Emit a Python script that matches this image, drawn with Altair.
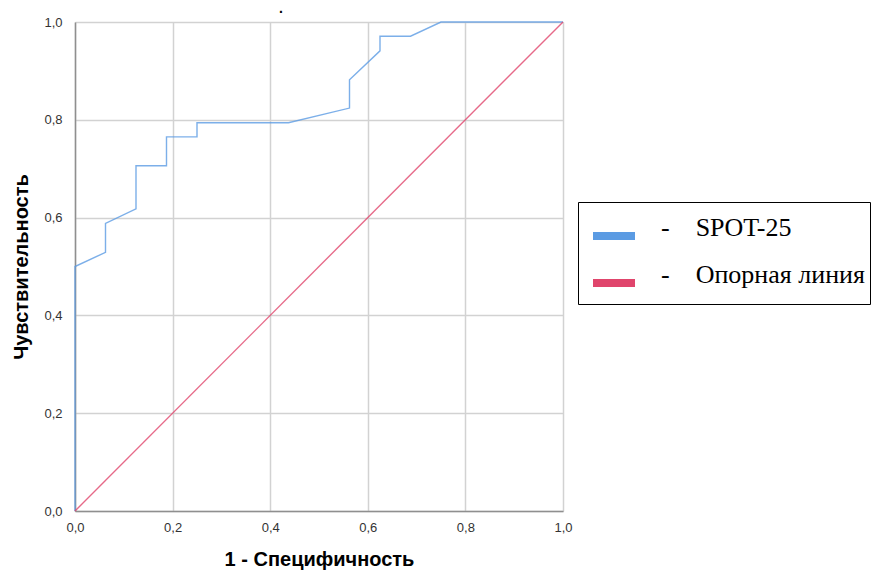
import altair as alt
import pandas as pd

# ROC curve points (1 - specificity, sensitivity)
roc_fpr = [0, 0, 0.0625, 0.0625, 0.125, 0.125, 0.1875, 0.1875, 0.25, 0.25,
           0.4375, 0.5625, 0.5625, 0.625, 0.625, 0.6875, 0.75, 1.0]
roc_tpr = [0, 0.5, 0.529, 0.588, 0.618, 0.706, 0.706, 0.765, 0.765, 0.794,
           0.794, 0.824, 0.882, 0.941, 0.971, 0.971, 1.0, 1.0]
ref_fpr = [0, 1]
ref_tpr = [0, 1]
series_names = ["SPOT-25", "Опорная линия"]
series_colors = ["#5b9be3", "#e0456c"]
tick_values = [0, 0.2, 0.4, 0.6, 0.8, 1.0]

rows = []
for i, (x, y) in enumerate(zip(roc_fpr, roc_tpr)):
    rows.append({"fpr": x, "tpr": y, "series": series_names[0], "idx": i})
for i, (x, y) in enumerate(zip(ref_fpr, ref_tpr)):
    rows.append({"fpr": x, "tpr": y, "series": series_names[1], "idx": i})
df = pd.DataFrame(rows)

label_expr = "replace(format(datum.value, '.1f'), '.', ',')"

chart = alt.Chart(df).mark_line(strokeWidth=1.4, opacity=0.8).encode(
    x=alt.X("fpr:Q", title="1 - Специфичность",
            scale=alt.Scale(domain=[0, 1], nice=False, zero=False),
            axis=alt.Axis(values=tick_values, labelExpr=label_expr,
                          labelFlush=False, labelPadding=10, titlePadding=15)),
    y=alt.Y("tpr:Q", title="Чувствительность",
            scale=alt.Scale(domain=[0, 1], nice=False, zero=False),
            axis=alt.Axis(values=tick_values, labelExpr=label_expr,
                          labelFlush=False, labelPadding=13, titlePadding=12)),
    color=alt.Color("series:N",
                    scale=alt.Scale(domain=series_names, range=series_colors),
                    legend=alt.Legend(orient="none", legendX=503, legendY=180,
                                      title=" ", titleFontSize=1,
                                      titlePadding=3, symbolOffset=6,
                                      labelExpr="'-\u2003' + datum.label")),
    order=alt.Order("idx:Q"),
    detail="series:N",
).properties(
    width=488, height=489,
    autosize=alt.AutoSizeParams(type="none"),
    padding={"left": 75, "top": 22, "right": 310, "bottom": 63},
    title=alt.TitleParams(".", fontSize=14, dx=-38, offset=0, color="black"),
).configure_view(
    stroke=None
).configure_axis(
    grid=True, gridColor="#d2d2d2", gridWidth=1.5,
    domainColor="#8f8f8f", domainWidth=1.5,
    ticks=False,
    labelFont="Liberation Sans", labelFontSize=13, labelColor="#333333",
    titleFont="Liberation Sans", titleFontSize=20, titleFontWeight="bold",
    titleColor="black",
).configure_legend(
    strokeColor="black", fillColor="white", padding=5,
    symbolType="stroke", symbolSize=1764, symbolStrokeWidth=8,
    symbolOpacity=1,
    labelFont="Liberation Serif", labelFontSize=26, labelColor="black",
    labelOffset=22, labelLimit=400, rowPadding=6,
    labelBaseline="alphabetic",
)

chart.save("out.html", embed_options={"renderer": "svg", "actions": False})
